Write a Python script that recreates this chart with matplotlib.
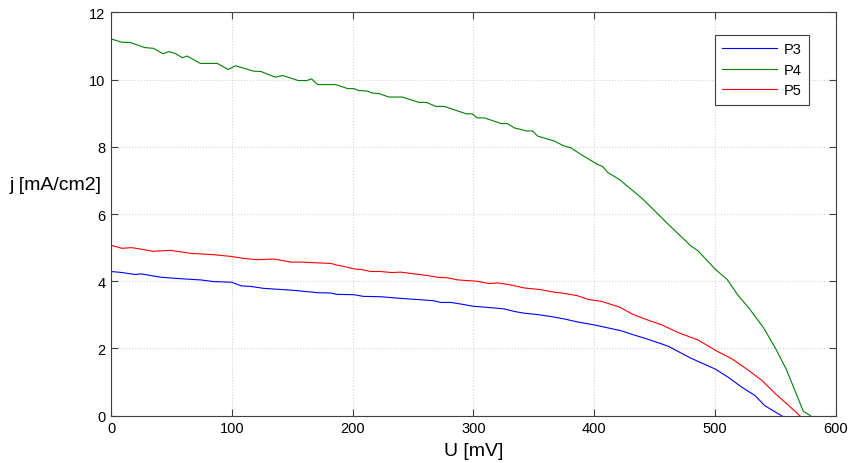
import numpy as np
import matplotlib.pyplot as plt

plt.rcParams['font.family'] = ['Liberation Sans', 'DejaVu Sans']

# P3 (blue)
u_p3 = [0, 9, 20, 25, 41, 60, 74, 85, 100, 108, 115, 126, 151, 171, 182, 187, 201, 209, 223,
        240, 256, 267, 273, 281, 290, 299, 309, 325, 334, 342, 353, 364, 375, 386, 400, 422,
        433, 444, 461, 480, 500, 511, 522, 533, 541, 555]
j_p3 = [4.29, 4.26, 4.2, 4.22, 4.12, 4.07, 4.04, 3.99, 3.97, 3.86, 3.85, 3.79, 3.73, 3.66, 3.65,
        3.61, 3.6, 3.55, 3.54, 3.49, 3.45, 3.42, 3.37, 3.37, 3.32, 3.26, 3.23, 3.18, 3.1, 3.05,
        3.01, 2.95, 2.88, 2.79, 2.7, 2.53, 2.4, 2.28, 2.07, 1.71, 1.39, 1.14, 0.85, 0.6, 0.3, 0.0]

# P4 (green)
u_p4 = [0, 9, 16, 28, 35, 43, 48, 53, 59, 63, 74, 88, 97, 103, 118, 124, 136, 142, 155, 162,
        166, 171, 186, 196, 201, 205, 212, 216, 222, 230, 241, 255, 261, 269, 276, 294, 299,
        303, 309, 323, 328, 334, 344, 349, 353, 367, 374, 381, 389, 402, 407, 411, 421, 431,
        440, 447, 461, 480, 486, 500, 510, 519, 528, 540, 550, 559, 566, 573, 579]
j_p4 = [11.21, 11.11, 11.1, 10.95, 10.93, 10.77, 10.83, 10.78, 10.65, 10.7, 10.48, 10.48, 10.3,
        10.41, 10.25, 10.24, 10.07, 10.12, 9.97, 9.97, 10.02, 9.85, 9.85, 9.73, 9.73, 9.67, 9.66,
        9.6, 9.58, 9.48, 9.48, 9.32, 9.32, 9.2, 9.2, 8.98, 8.98, 8.86, 8.86, 8.69, 8.69, 8.56,
        8.47, 8.47, 8.32, 8.17, 8.04, 7.96, 7.77, 7.49, 7.41, 7.24, 7.02, 6.72, 6.45, 6.2, 5.7,
        5.05, 4.9, 4.36, 4.05, 3.58, 3.2, 2.62, 2.0, 1.37, 0.75, 0.13, 0.0]

# P5 (red)
u_p5 = [0, 9, 17, 24, 35, 49, 66, 85, 99, 110, 121, 135, 149, 157, 182, 187, 193, 202, 207, 215,
        223, 232, 240, 251, 262, 270, 279, 287, 303, 313, 320, 328, 336, 342, 356, 364, 375, 386,
        395, 406, 421, 431, 444, 456, 469, 486, 501, 514, 528, 539, 550, 561, 570]
j_p5 = [5.07, 4.98, 5.0, 4.96, 4.89, 4.92, 4.83, 4.79, 4.74, 4.68, 4.64, 4.66, 4.57, 4.57, 4.53,
        4.48, 4.44, 4.36, 4.35, 4.29, 4.29, 4.26, 4.27, 4.22, 4.17, 4.12, 4.1, 4.04, 4.0, 3.93,
        3.95, 3.91, 3.85, 3.8, 3.75, 3.69, 3.64, 3.57, 3.46, 3.4, 3.23, 3.03, 2.85, 2.7, 2.48,
        2.25, 1.93, 1.69, 1.34, 1.04, 0.65, 0.3, 0.0]

fig = plt.figure(figsize=(8.5, 4.64), dpi=100)
ax = fig.add_axes([0.1306, 0.1019, 0.8529, 0.8694])

ax.plot(u_p3, j_p3, color='#0000ff', lw=0.8, label='P3')
ax.plot(u_p4, j_p4, color='#008000', lw=0.8, label='P4')
ax.plot(u_p5, j_p5, color='#ff0000', lw=0.8, label='P5')

ax.set_xlim(0, 600)
ax.set_ylim(0, 12)
ax.set_xticks(np.arange(0, 601, 100))
ax.set_yticks(np.arange(0, 13, 2))
ax.grid(True, linestyle=':', color='#d4d4d4', lw=0.8)
ax.tick_params(direction='in', length=5, top=True, right=True, labelsize=10.5,
               color='#404040', pad=4)
for s in ax.spines.values():
    s.set_color('#404040')
    s.set_linewidth(0.8)

ax.set_xlabel('U [mV]', fontsize=14, labelpad=5)
ax.set_ylabel('j [mA/cm2]', fontsize=14, rotation=0, ha='center', va='center')
ax.yaxis.set_label_coords(-0.076, 0.574)

leg = ax.legend(loc='upper right', bbox_to_anchor=(0.963, 0.944), borderaxespad=0,
                fontsize=10.5, fancybox=False, framealpha=1, edgecolor='#404040',
                handlelength=3.8, handletextpad=0.45, borderpad=0.5, labelspacing=0.45)
leg.get_frame().set_linewidth(0.8)

fig.savefig('out.png', dpi=100)
